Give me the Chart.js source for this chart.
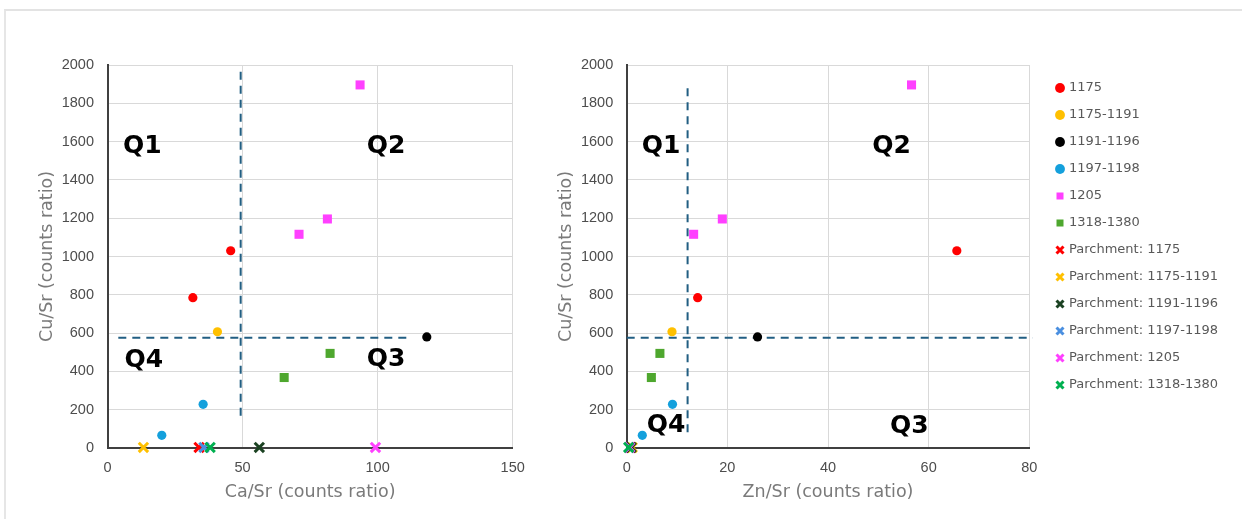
<!DOCTYPE html>
<html><head><meta charset="utf-8">
<script src="https://cdn.jsdelivr.net/npm/chart.js@4.4.1/dist/chart.umd.min.js"></script>
<style>
html,body{margin:0;padding:0;background:#fff;width:1242px;height:519px;overflow:hidden;}
#frame{position:absolute;left:4px;top:9px;width:1260px;height:530px;border-top:2px solid #e3e3e3;border-left:2px solid #e6e6e6;}
#c1{position:absolute;left:0;top:0;}
#c2{position:absolute;left:540px;top:0;}
</style></head><body>
<div id="frame"></div>
<canvas id="c1" width="540" height="519"></canvas>
<canvas id="c2" width="702" height="519"></canvas>
<script>
// ---------- data ----------
const seriesLabels = ['1175','1175-1191','1191-1196','1197-1198','1205','1318-1380',
  'Parchment: 1175','Parchment: 1175-1191','Parchment: 1191-1196','Parchment: 1197-1198','Parchment: 1205','Parchment: 1318-1380'];
const seriesColors = ['#FF0000','#FFC000','#000000','#14A0DC','#FF40FF','#4EA72E',
  '#FF0000','#FFC000','#1B4222','#4A8FE0','#FF40FF','#00B050'];
const seriesShapes = ['circle','circle','circle','circle','rect','rect',
  'crossRot','crossRot','crossRot','crossRot','crossRot','crossRot'];
// Ca/Sr per series
const caSr = [[31.6,45.6],[40.7],[118.2],[35.4,20.1],[93.5,81.4,70.9],[82.4,65.4],
  [33.9],[13.3],[56.2],[35.7],[99.2],[38.0]];
// Zn/Sr per series
const znSr = [[14.1,65.6],[9.0],[26.0],[9.1,3.1],[56.6,19.0,13.3],[6.6,4.9],
  [0.8],[1.1],[0.9],[0.5],[0.6],[0.4]];
// Cu/Sr per series
const cuSr = [[785,1030],[607],[580],[228,66],[1896,1196,1116],[494,368],
  [3],[3],[3],[3],[3],[3]];

const caTicks = [0,50,100,150];
const znTicks = [0,20,40,60,80];
const cuTicks = [0,200,400,600,800,1000,1200,1400,1600,1800,2000];

// quadrant threshold guide lines
const caCut = 49.3, caCutCuRange = [1965,160];
const cuCutLeft = 576, cuCutCaRange = [4.0,111.4];
const znCut = 12.1, znCutCuRange = [1878,77];
const cuCutRight = 576, cuCutZnRange = [0,80.7];

// quadrant labels: [text, x value, y value]
const leftQuads = [['Q1',5.7,1572],['Q2',96.0,1572],['Q4',6.3,455],['Q3',96.0,460]];
const rightQuads = [['Q1',3.0,1573],['Q2',48.8,1573],['Q4',4.0,120],['Q3',52.3,111]];

// ---------- style ----------
const FONT = '"DejaVu Sans", sans-serif';
const tickFont = {family:'"Liberation Sans", Arial, sans-serif', size:14.5};
const titleFont = {family:FONT, size:17.5};
const tickColor = '#4d4d4d', titleColor = '#7a7a7a';
const DASH_COLOR = '#215E82';

function pointDatasets(xVals){
  return seriesLabels.map((label,i)=>{
    const shape = seriesShapes[i];
    const cross = shape==='crossRot';
    const r = shape==='circle'?4.6:(shape==='rect'?6.4:6.6);
    return {
      label,
      data: xVals[i].map((x,j)=>({x, y:cuSr[i][j]})),
      pointStyle: shape,
      pointRadius: r, pointHoverRadius: r,
      backgroundColor: seriesColors[i],
      borderColor: seriesColors[i],
      pointBorderWidth: cross?3:0,
      borderWidth: cross?3:0,
      showLine:false, clip:false, order:-i
    };
  });
}
function guide(p1,p2){
  return {label:'', data:[p1,p2], showLine:true, borderColor:DASH_COLOR, backgroundColor:DASH_COLOR,
    borderWidth:2, borderDash:[8,6], pointRadius:0, pointHoverRadius:0, fill:false, clip:false, order:100};
}
function makeScales(xTitle, xMax, xTicks){
  return {
    x:{type:'linear', min:0, max:xMax,
      afterBuildTicks:s=>{s.ticks = xTicks.map(v=>({value:v}));},
      afterFit:s=>{s.height = 54.5;},
      grid:{color:'#d9d9d9', lineWidth:1, drawTicks:false},
      border:{color:'#404040', width:2},
      ticks:{font:tickFont, color:tickColor, padding:11.3, maxRotation:0, callback:v=>String(v)},
      title:{display:true, text:xTitle, font:titleFont, color:titleColor, padding:0}},
    y:{type:'linear', min:0, max:2000,
      afterBuildTicks:s=>{s.ticks = cuTicks.map(v=>({value:v}));},
      afterFit:s=>{s.width = 70.5;},
      grid:{color:'#d9d9d9', lineWidth:1, drawTicks:false},
      border:{color:'#404040', width:2},
      ticks:{font:tickFont, color:tickColor, padding:13.5, callback:v=>String(v)},
      title:{display:true, text:'Cu/Sr (counts ratio)', font:titleFont, color:titleColor, padding:0}}
  };
}
function quadPlugin(labels){
  return {id:'quadLabels', afterDatasetsDraw(chart){
    const {ctx, scales:{x,y}} = chart;
    ctx.save();
    ctx.font = 'bold 25px ' + FONT;
    ctx.fillStyle = '#000';
    ctx.textAlign = 'left'; ctx.textBaseline = 'middle';
    labels.forEach(([t,vx,vy])=>ctx.fillText(t, x.getPixelForValue(vx), y.getPixelForValue(vy)));
    ctx.restore();
  }};
}
const LEGEND_X = 520, LEGEND_Y = 88, LEGEND_BOX = 5, LEGEND_FS = 13;
const legendPlace = {id:'legendPlace', afterLayout(chart){
  const lg = chart.legend; if(!lg) return;
  const pad = lg.options.labels.padding;
  const dx = LEGEND_X - (lg.left + pad + LEGEND_BOX/2);
  lg.left += dx; lg.right += dx;
  const dy = LEGEND_Y - (lg.top + pad + LEGEND_FS/2);
  lg.top += dy; lg.bottom += dy;
}};

// ---------- left chart ----------
const opts1 = {
  responsive:false, animation:false, devicePixelRatio:1,
  layout:{padding:{left:37, top:65, right:27.3, bottom:16.5}},
  plugins:{legend:{display:false}, tooltip:{enabled:false}},
  scales: makeScales('Ca/Sr (counts ratio)', 150, caTicks)
};
new Chart(document.getElementById('c1'), {
  type:'scatter',
  data:{datasets:[...pointDatasets(caSr),
    guide({x:caCut,y:caCutCuRange[0]},{x:caCut,y:caCutCuRange[1]}),
    guide({x:cuCutCaRange[0],y:cuCutLeft},{x:cuCutCaRange[1],y:cuCutLeft})]},
  options:opts1,
  plugins:[quadPlugin(leftQuads)]
});

// ---------- right chart ----------
const PLOT_RIGHT = 489.3;
const opts2 = {
  responsive:false, animation:false, devicePixelRatio:1,
  layout:{padding:{left:16.2, top:65, right:0, bottom:16.5}},
  plugins:{
    tooltip:{enabled:false},
    legend:{display:true, position:'right', align:'start', maxWidth:400,
      labels:{usePointStyle:true, boxWidth:LEGEND_BOX, boxHeight:7, padding:14,
        font:{family:FONT, size:LEGEND_FS}, color:'#595959',
        filter:item=>item.datasetIndex < seriesLabels.length,
        sort:(a,b)=>a.datasetIndex-b.datasetIndex}}
  },
  scales: makeScales('Zn/Sr (counts ratio)', 80, znTicks)
};
const c2 = new Chart(document.getElementById('c2'), {
  type:'scatter',
  data:{datasets:[...pointDatasets(znSr),
    guide({x:znCut,y:znCutCuRange[0]},{x:znCut,y:znCutCuRange[1]}),
    guide({x:cuCutZnRange[0],y:cuCutRight},{x:cuCutZnRange[1],y:cuCutRight})]},
  options:opts2,
  plugins:[quadPlugin(rightQuads), legendPlace]
});
for (let k = 0; k < 3; k++) {
  const over = c2.chartArea.right - PLOT_RIGHT;
  if (Math.abs(over) <= 0.1) break;
  opts2.layout.padding.right += over;
  c2.update('none');
}
</script></body></html>
